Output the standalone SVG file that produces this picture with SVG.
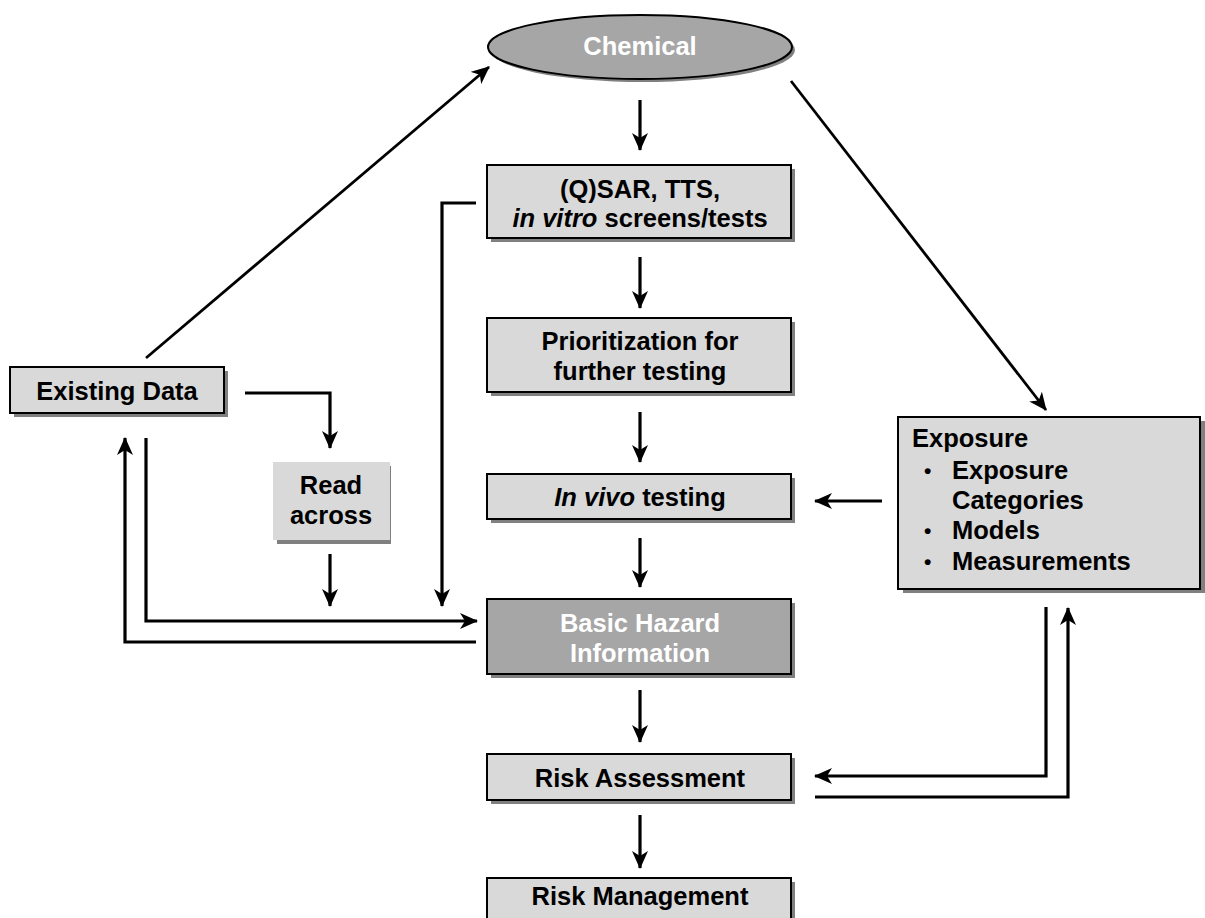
<svg xmlns="http://www.w3.org/2000/svg" width="1205" height="918" viewBox="0 0 1205 918">
<style>
.box{fill:#d9d9d9;stroke:#000;stroke-width:2}
.dark{fill:#a6a6a6;stroke:#000;stroke-width:2}
.sh{fill:#808080}
.t{font-family:"Liberation Sans",Arial,sans-serif;font-weight:bold;font-size:25.5px;fill:#000;text-anchor:middle}
.w{fill:#fff}
.l{text-anchor:start}
.b{font-size:21px}
.c{fill:none;stroke:#000;stroke-width:3.2}
.d{fill:none;stroke:#000;stroke-width:2.8}
</style>
<defs>
<marker id="ah" viewBox="0 0 18 16" refX="17" refY="8" markerWidth="18" markerHeight="16" markerUnits="userSpaceOnUse" orient="auto">
<path d="M0,0 L18,8 L0,16 L5,8 Z" fill="#000"/>
</marker>
</defs>
<rect width="1205" height="918" fill="#fff"/>

<g id="chemical">
<ellipse cx="643" cy="50" rx="152" ry="32" class="sh"/>
<ellipse cx="640" cy="47" rx="152" ry="32" class="dark"/>
<text x="640" y="55" class="t w" font-size="23">Chemical</text>
</g>

<g id="qsar">
<rect x="491" y="169" width="304" height="73" class="sh"/>
<rect x="487" y="165" width="304" height="73" class="box"/>
<text x="640" y="198" class="t">(Q)SAR, TTS,</text>
<text x="640" y="227" class="t"><tspan font-style="italic">in vitro</tspan> screens/tests</text>
</g>

<g id="prioritization">
<rect x="491" y="322" width="304" height="74" class="sh"/>
<rect x="487" y="318" width="304" height="74" class="box"/>
<text x="640" y="350" class="t">Prioritization for</text>
<text x="640" y="380" class="t">further testing</text>
</g>

<g id="invivo">
<rect x="491" y="478" width="304" height="45" class="sh"/>
<rect x="487" y="474" width="304" height="45" class="box"/>
<text x="640" y="506" class="t"><tspan font-style="italic">In vivo</tspan> testing</text>
</g>

<g id="hazard">
<rect x="491" y="603" width="304" height="75" class="sh"/>
<rect x="487" y="599" width="304" height="75" class="dark"/>
<text x="640" y="632" class="t w">Basic Hazard</text>
<text x="640" y="662" class="t w">Information</text>
</g>

<g id="riskassessment">
<rect x="491" y="758" width="304" height="46" class="sh"/>
<rect x="487" y="754" width="304" height="46" class="box"/>
<text x="640" y="787" class="t">Risk Assessment</text>
</g>

<g id="riskmanagement">
<rect x="491" y="882" width="304" height="46" class="sh"/>
<rect x="487" y="878" width="304" height="46" class="box"/>
<text x="640" y="905" class="t">Risk Management</text>
</g>

<g id="existingdata">
<rect x="14" y="371" width="214" height="46" class="sh"/>
<rect x="10" y="367" width="214" height="46" class="box"/>
<text x="117" y="400" class="t">Existing Data</text>
</g>

<g id="readacross">
<rect x="277" y="466" width="114" height="78" class="sh"/>
<rect x="273" y="462" width="117" height="78" fill="#d9d9d9"/>
<text x="331" y="494" class="t">Read</text>
<text x="331" y="524" class="t">across</text>
</g>

<g id="exposure">
<rect x="903" y="421" width="302" height="172" class="sh"/>
<rect x="898" y="417" width="302" height="172" class="box"/>
<text x="912" y="447" class="t l">Exposure</text>
<text x="924" y="478" class="t l b">•</text>
<text x="952" y="479" class="t l">Exposure</text>
<text x="952" y="509" class="t l">Categories</text>
<text x="924" y="538" class="t l b">•</text>
<text x="952" y="539" class="t l">Models</text>
<text x="924" y="569" class="t l b">•</text>
<text x="952" y="570" class="t l">Measurements</text>
</g>

<g id="connectors">
<line x1="640" y1="100" x2="640" y2="150" class="c" marker-end="url(#ah)"/>
<line x1="640" y1="257" x2="640" y2="308" class="c" marker-end="url(#ah)"/>
<line x1="640" y1="412" x2="640" y2="462" class="c" marker-end="url(#ah)"/>
<line x1="640" y1="538" x2="640" y2="587" class="c" marker-end="url(#ah)"/>
<line x1="640" y1="690" x2="640" y2="742" class="c" marker-end="url(#ah)"/>
<line x1="640" y1="815" x2="640" y2="868" class="c" marker-end="url(#ah)"/>
<line x1="146" y1="358" x2="489" y2="67" class="d" marker-end="url(#ah)"/>
<line x1="791" y1="81" x2="1046" y2="410" class="d" marker-end="url(#ah)"/>
<polyline points="245,393 330,393 330,448" class="c" marker-end="url(#ah)"/>
<line x1="330" y1="554" x2="330" y2="606" class="c" marker-end="url(#ah)"/>
<polyline points="146,438 146,621 477,621" class="c" marker-end="url(#ah)"/>
<polyline points="476,642 125,642 125,438" class="c" marker-end="url(#ah)"/>
<polyline points="476,203 442,203 442,606" class="c" marker-end="url(#ah)"/>
<line x1="882" y1="501" x2="815" y2="501" class="c" marker-end="url(#ah)"/>
<polyline points="1046,607 1046,776 815,776" class="c" marker-end="url(#ah)"/>
<polyline points="815,797 1068,797 1068,608" class="c" marker-end="url(#ah)"/>
</g>
</svg>
